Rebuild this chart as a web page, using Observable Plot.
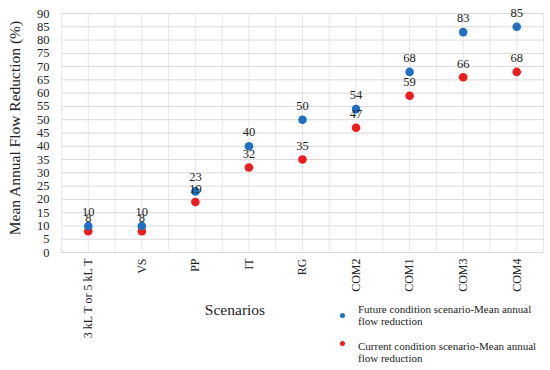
<!DOCTYPE html>
<html>
<head>
<meta charset="utf-8">
<script src="https://cdn.jsdelivr.net/npm/d3@7"></script>
<script src="https://cdn.jsdelivr.net/npm/@observablehq/plot@0.6"></script>
<style>
  html, body { margin: 0; padding: 0; background: #fff; }
  #wrap { position: relative; width: 550px; height: 370px; font-family: "Liberation Serif", "Times New Roman", serif; color: #222; }
  #wrap svg, #wrap svg text { font-family: "Liberation Serif", "Times New Roman", serif !important; }
  .abs { position: absolute; white-space: nowrap; }
  .leg { font-size: 11px; line-height: 11.5px; }
  .dot { position: absolute; width: 6px; height: 6px; border-radius: 50%; }
</style>
</head>
<body>
<div id="wrap"></div>
<script>
const scenarios = ["3 kL T or 5 kL T", "VS", "PP", "IT", "RG", "COM2", "COM1", "COM3", "COM4"];
const futureValues = [10, 10, 23, 40, 50, 54, 68, 83, 85];
const currentValues = [8, 8, 19, 32, 35, 47, 59, 66, 68];
const yTicks = d3.range(0, 91, 5);
const seriesNames = ["Future condition scenario-Mean annual flow reduction", "Current condition scenario-Mean annual flow reduction"];
const seriesColors = ["#1f6fc4", "#ee1c1c"];

const future = scenarios.map((s, i) => ({i, s, v: futureValues[i]}));
const current = scenarios.map((s, i) => ({i, s, v: currentValues[i]}));
const halfSteps = d3.range(-0.5, scenarios.length, 0.5);

const font = '"Liberation Serif", "Times New Roman", serif';

const chart = Plot.plot({
  width: 550,
  height: 370,
  marginLeft: 61,
  marginRight: 7,
  marginTop: 13,
  marginBottom: 118,
  style: {fontFamily: font, fontSize: "12px", color: "#222", background: "#fff"},
  x: {type: "linear", domain: [-0.5, scenarios.length - 0.5]},
  y: {domain: [0, 90]},
  marks: [
    Plot.ruleY(yTicks, {y: d => d, stroke: "#d9d9d9", strokeWidth: 1}),
    Plot.ruleX(halfSteps, {x: d => d, stroke: "#e6e6e6", strokeWidth: 1}),
    Plot.axisY({ticks: yTicks, tickSize: 0, tickPadding: 12, label: null, fontSize: 12.5, fontFamily: font}),
    Plot.axisX({ticks: d3.range(scenarios.length), tickFormat: i => scenarios[i], tickSize: 0, tickPadding: 6, tickRotate: -90, label: null, fontSize: 12, fontFamily: font}),
    Plot.dot(current, {x: "i", y: "v", r: 4.3, fill: seriesColors[1]}),
    Plot.dot(future, {x: "i", y: "v", r: 4.3, fill: seriesColors[0]}),
    Plot.text(future, {x: "i", y: "v", text: d => String(d.v), dy: -14, fontSize: 12.5, fill: "#222", fontFamily: font}),
    Plot.text(current, {x: "i", y: "v", text: d => String(d.v), dy: -13.5, fontSize: 12.5, fill: "#222", fontFamily: font})
  ]
});

const wrap = document.getElementById("wrap");
chart.style.position = "absolute";
chart.style.left = "0";
chart.style.top = "0";
wrap.appendChild(chart);

function addDiv(cls, text, css) {
  const d = document.createElement("div");
  d.className = cls;
  if (text != null) d.textContent = text;
  Object.assign(d.style, css);
  wrap.appendChild(d);
  return d;
}

// y-axis title
addDiv("abs", "Mean Annual Flow Reduction (%)", {
  left: "15px", top: "128px", fontSize: "15.5px",
  transform: "translate(-50%, -50%) rotate(-90deg)"
});
// x-axis title
addDiv("abs", "Scenarios", {
  left: "235px", top: "310px", fontSize: "15.5px",
  transform: "translate(-50%, -50%)"
});
// legend
addDiv("dot", null, {left: "340px", top: "313px", width: "5px", height: "5px", background: seriesColors[0]});
addDiv("abs leg", "Future condition scenario-Mean annual", {left: "358px", top: "304px"});
addDiv("abs leg", "flow reduction", {left: "358px", top: "316px"});
addDiv("dot", null, {left: "340px", top: "341px", width: "5px", height: "5px", background: seriesColors[1]});
addDiv("abs leg", "Current condition scenario-Mean annual", {left: "358px", top: "341px"});
addDiv("abs leg", "flow reduction", {left: "358px", top: "353px"});
</script>
</body>
</html>
